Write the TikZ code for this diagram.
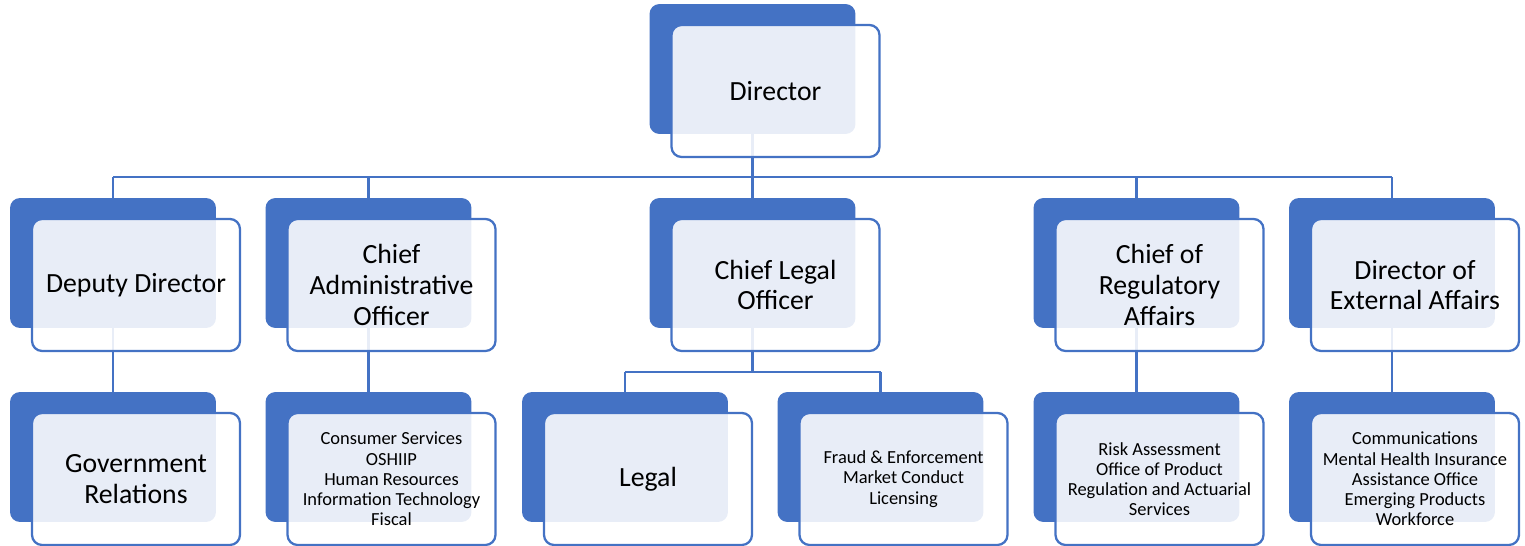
\documentclass[tikz,border=0pt]{standalone}
\usepackage{fontspec}
\setmainfont{Carlito}
\usetikzlibrary{positioning}

\definecolor{orgblue}{HTML}{4472C4}

\tikzstyle{unit shadow}=[draw=none, fill=orgblue, rounded corners=0.2cm, minimum width=4.12cm, minimum height=2.6cm]
\tikzstyle{unit}=[draw=orgblue, line width=1.3pt, fill=white, fill opacity=0.88, text opacity=1, rounded corners=0.2cm, minimum width=4.16cm, minimum height=2.64cm, align=center, xshift=0.46cm, yshift=-0.44cm]
\tikzstyle{big label}=[font=\fontsize{15.8}{17.4}\selectfont]
\tikzstyle{small label}=[font=\fontsize{10.5}{11.5}\selectfont]
\tikzstyle{link}=[draw=orgblue, line width=1.2pt]

\begin{document}
\begin{tikzpicture}[x=0.02cm, y=-0.02cm]
  \useasboundingbox (0,0) rectangle (1525,546);

  % back plates
  \node[unit shadow] (dirb) at (752.5,69) {};
  \node[unit shadow] (depb) at (113,263) {};
  \node[unit shadow] (caob) at (368.5,263) {};
  \node[unit shadow] (clob) at (752.5,263) {};
  \node[unit shadow] (regb) at (1136.5,263) {};
  \node[unit shadow] (extb) at (1392,263) {};
  \node[unit shadow] (govb) at (113,457) {};
  \node[unit shadow] (admb) at (368.5,457) {};
  \node[unit shadow] (legb) at (625,457) {};
  \node[unit shadow] (frdb) at (880.5,457) {};
  \node[unit shadow] (rskb) at (1136.5,457) {};
  \node[unit shadow] (comb) at (1392,457) {};

  % connectors
  \coordinate (bar) at (0,177);
  \coordinate (legbar) at (0,372);
  \draw[link] (dirb.south) -- (dirb |- bar);
  \draw[link] (depb |- bar) -- (extb |- bar);
  \draw[link] (depb |- bar) -- (depb.north);
  \draw[link] (caob |- bar) -- (caob.north);
  \draw[link] (clob |- bar) -- (clob.north);
  \draw[link] (regb |- bar) -- (regb.north);
  \draw[link] (extb |- bar) -- (extb.north);
  \draw[link] (depb.south) -- (govb.north);
  \draw[link] (caob.south) -- (admb.north);
  \draw[link] (clob.south) -- (clob |- legbar);
  \draw[link] (legb |- legbar) -- (frdb |- legbar);
  \draw[link] (legb |- legbar) -- (legb.north);
  \draw[link] (frdb |- legbar) -- (frdb.north);
  \draw[link] (regb.south) -- (rskb.north);
  \draw[link] (extb.south) -- (comb.north);

  % front cards
  \node[unit, big label] (dir) at (dirb) {Director};
  \node[unit, big label] (dep) at (depb) {Deputy Director};
  \node[unit, big label] (cao) at (caob) {Chief\\Administrative\\Officer};
  \node[unit, big label] (clo) at (clob) {Chief Legal\\Officer};
  \node[unit, big label] (reg) at (regb) {Chief of\\Regulatory\\Affairs};
  \node[unit, big label] (ext) at (extb) {Director of\\External Affairs};
  \node[unit, big label] (gov) at (govb) {Government\\Relations};
  \node[unit, small label] (adm) at (admb) {Consumer Services\\OSHIIP\\Human Resources\\Information Technology\\Fiscal};
  \node[unit, big label] (leg) at (legb) {Legal};
  \node[unit, small label] (frd) at (frdb) {Fraud \& Enforcement\\Market Conduct\\Licensing};
  \node[unit, small label] (rsk) at (rskb) {Risk Assessment\\Office of Product\\Regulation and Actuarial\\Services};
  \node[unit, small label] (com) at (comb) {Communications\\Mental Health Insurance\\Assistance Office\\Emerging Products\\Workforce};
\end{tikzpicture}
\end{document}
